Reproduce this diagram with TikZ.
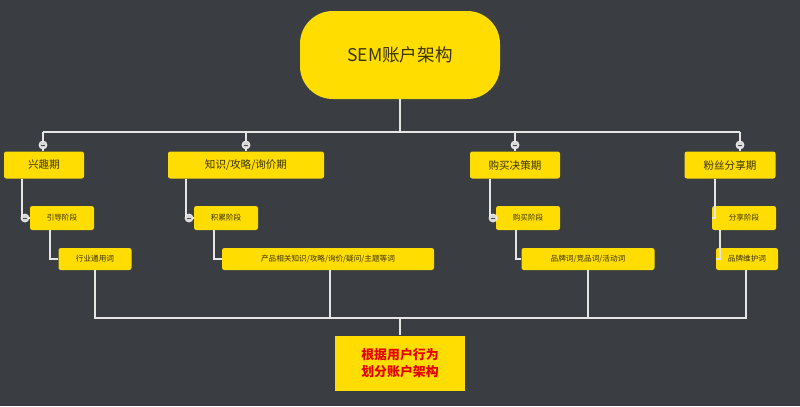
\documentclass[tikz,border=0pt]{standalone}
\usepackage{fontspec}
\setmainfont{Noto Sans CJK SC}
\usetikzlibrary{calc}
\definecolor{bgc}{HTML}{3A3D42}
\definecolor{boxy}{HTML}{FFDD00}
\definecolor{txtc}{HTML}{3A3300}
\tikzstyle{stagebox}=[
    fill=boxy,          % yellow box
    rounded corners=2pt,
    text=txtc,
    inner sep=2pt,
    font=\fontsize{9}{10}\selectfont]
\tikzstyle{stepbox}=[
    stagebox,
    font=\fontsize{6.5}{7}\selectfont]
\tikzstyle{fold}=[
    circle, draw=white, fill=white!85!black, inner sep=0pt, minimum size=7pt]
\tikzstyle{wire}=[white!90!black, line width=1.6pt]
\begin{document}
\begin{tikzpicture}[x=0.03cm, y=-0.03cm]
        \useasboundingbox[fill=bgc] (0,0) rectangle (800,406);
        % Draw the vertices.
        \node[fill=boxy, rounded corners=28pt, minimum width=200*0.03cm, minimum height=88*0.03cm,
              text=txtc, font=\fontsize{15}{16}\selectfont] (root) at (400,55) {SEM账户架构};
        \node[stagebox, minimum width=80*0.03cm, minimum height=27*0.03cm] (s1) at (44,165) {兴趣期};
        \node[stagebox, minimum width=156*0.03cm, minimum height=27*0.03cm] (s2) at (246,165) {知识/攻略/询价期};
        \node[stagebox, minimum width=90*0.03cm, minimum height=27*0.03cm] (s3) at (515,165) {购买决策期};
        \node[stagebox, minimum width=91*0.03cm, minimum height=27*0.03cm] (s4) at (730,165) {粉丝分享期};

        \node[stepbox, minimum width=64*0.03cm, minimum height=24*0.03cm] (p1) at (62,218) {引导阶段};
        \node[stepbox, minimum width=64*0.03cm, minimum height=24*0.03cm] (p2) at (226,218) {积累阶段};
        \node[stepbox, minimum width=64*0.03cm, minimum height=24*0.03cm] (p3) at (528,218) {购买阶段};
        \node[stepbox, minimum width=64*0.03cm, minimum height=24*0.03cm] (p4) at (744,218) {分享阶段};

        \node[stepbox, minimum width=73*0.03cm, minimum height=22*0.03cm] (w1) at (95,259) {行业通用词};
        \node[stepbox, minimum width=212*0.03cm, minimum height=22*0.03cm] (w2) at (328,259) {产品相关知识/攻略/询价/疑问/主题等词};
        \node[stepbox, minimum width=133*0.03cm, minimum height=22*0.03cm] (w3) at (588,259) {品牌词/竞品词/活动词};
        \node[stepbox, minimum width=62*0.03cm, minimum height=22*0.03cm] (w4) at (747,259) {品牌维护词};

        \node[fill=boxy, minimum width=130*0.03cm, minimum height=55*0.03cm, align=center,
              text=red!90!black, font=\fontsize{11}{14}\bfseries\selectfont] (sum) at (400,363) {根据用户行为\\划分账户架构};

        % Connect vertices with edges
        \coordinate (hub) at (400,132);
        \draw[wire] (root.south) -- (hub);
        \draw[wire] (43,132) -- (740,132);
        \draw[wire] (43,132) -- (s1.north -| 43,0);
        \draw[wire] (246,132) -- (s2.north);
        \draw[wire] (515,132) -- (s3.north);
        \draw[wire] (740,132) -- (s4.north -| 740,0);
        \draw[wire] (s1.south -| 22,0) |- (p1.west);
        \draw[wire] (s2.south -| 186,0) |- (p2.west);
        \draw[wire] (s3.south -| 490,0) |- (p3.west);
        \draw[wire] (s4.south -| 715,0) |- (p4.west);
        \draw[wire] (p1.south -| 50,0) |- (w1.west);
        \draw[wire] (p2.south -| 214,0) |- (w2.west);
        \draw[wire] (p3.south -| 516,0) |- (w3.west);
        \draw[wire] (p4.south -| 720,0) |- (w4.west);
        \draw[wire] (w1.south) -- (95,318) -- (746,318) -- (w4.south -| 746,0);
        \draw[wire] (w2.south -| 330,0) -- (330,318);
        \draw[wire] (w3.south) -- (588,318);
        \draw[wire] (400,318) -- (sum.north);

        % Fold markers
        \foreach \px/\py [count=\i] in {43/145, 246/145, 515/145, 740/145, 25/218, 189/218, 493/218}
            \node[fold] (f\i) at (\px,\py) {\textcolor{black!70}{\rule{4pt}{0.8pt}}};
\end{tikzpicture}
\end{document}
